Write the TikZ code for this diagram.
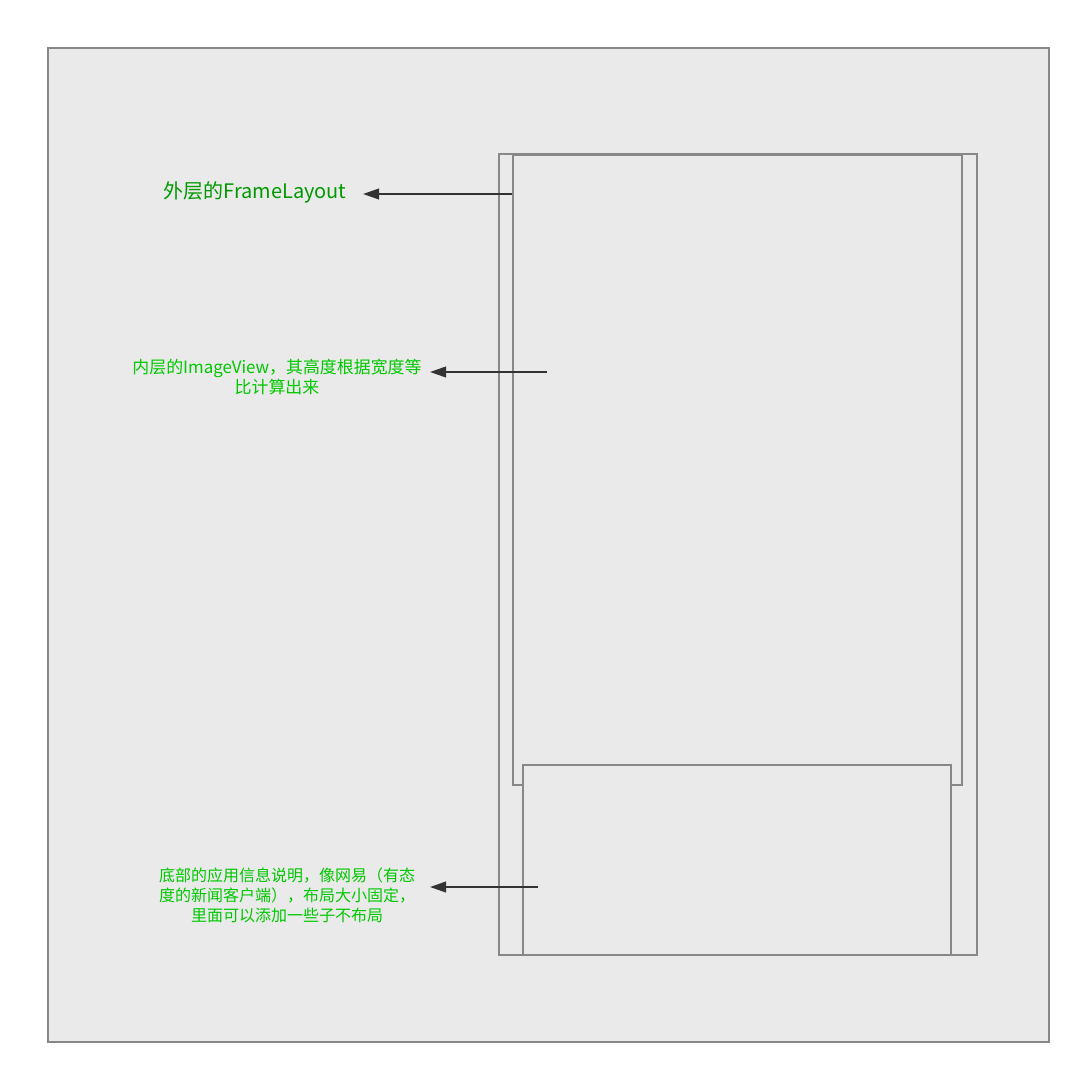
\documentclass[tikz,border=0pt]{standalone}
\usepackage{fontspec}
\setmainfont{Noto Sans CJK SC}
\usetikzlibrary{arrows.meta}
\definecolor{bgc}{HTML}{EAEAEA}
\definecolor{edge}{HTML}{888888}
\definecolor{darkgreen}{HTML}{009900}
\definecolor{lightgreen}{HTML}{00C800}
\definecolor{arrowc}{HTML}{333333}
\tikzset{
  box/.style={draw=edge, line width=1.5pt, fill=bgc},
  pointer/.style={draw=arrowc, line width=1.4pt, -{Triangle[length=12pt,width=8pt]}},
  lbl/.style={align=center, inner sep=0pt, font=\fontsize{12.7}{15}\selectfont, text=lightgreen}
}
\begin{document}
\begin{tikzpicture}[x=0.75pt,y=-0.75pt]
\useasboundingbox (0,0) rectangle (1081,1074);
\fill[white] (0,0) rectangle (1081,1074);
\draw[box] (48,48) rectangle (1049,1042);
\draw[box] (499,154) rectangle (977,955);
\draw[box] (513,155) rectangle (962,785);
\draw[box] (523,765) rectangle (951,955);
\node[inner sep=0pt, font=\fontsize{15}{18}\selectfont, text=darkgreen] (l1) at (255,192) {外层的FrameLayout};
\node[lbl] (l2) at (277,377) {内层的ImageView，其高度根据宽度等\\比计算出来};
\node[lbl, font=\fontsize{12}{15}\selectfont] (l3) at (287,895) {底部的应用信息说明，像网易（有态\\度的新闻客户端），布局大小固定，\\里面可以添加一些子不布局};
\coordinate (s1) at (512,194);
\coordinate (e1) at (363,194);
\coordinate (s2) at (547,372);
\coordinate (e2) at (430,372);
\coordinate (s3) at (538,887);
\coordinate (e3) at (430,887);
\draw[pointer] (s1) -- (e1);
\draw[pointer] (s2) -- (e2);
\draw[pointer] (s3) -- (e3);
\end{tikzpicture}
\end{document}
